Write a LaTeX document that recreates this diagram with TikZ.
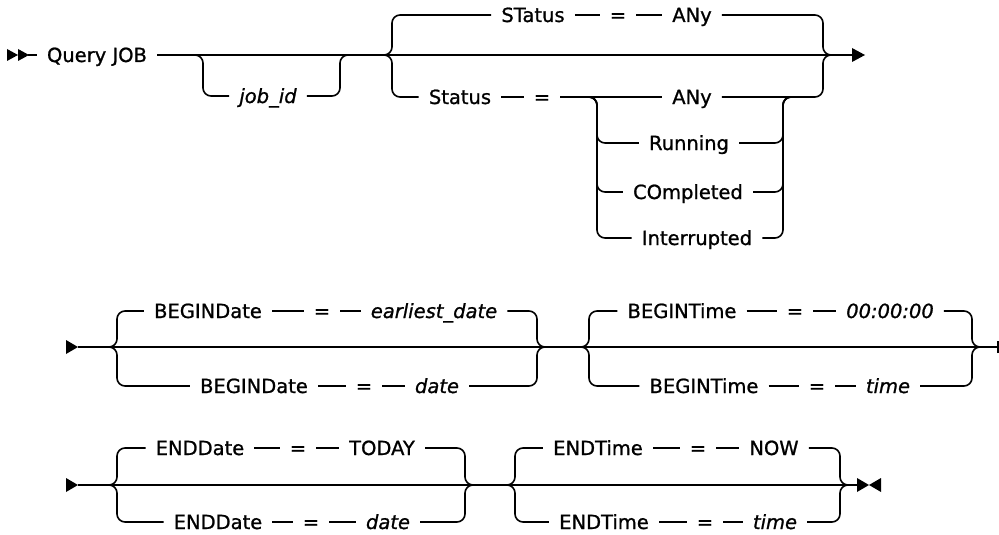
\documentclass[tikz,border=0pt]{standalone}
\usepackage{fontspec}
\setmainfont{DejaVu Sans}
\newfontfamily\railfont{DejaVu Sans}[FakeBold=1]
\usetikzlibrary{positioning}

\begin{document}
\begin{tikzpicture}[x=1pt,y=-1pt,
  rail/.style={line width=1.6pt,rounded corners=8pt},
  kw/.style={font=\railfont\fontsize{19.5}{22}\selectfont,inner xsep=10pt,inner ysep=0pt,
    text height=14pt,text depth=0pt},
  var/.style={kw,font=\railfont\fontsize{19.5}{22}\selectfont\itshape}]
  \useasboundingbox (0,0) rectangle (999,535);

  % row 1: command, optional job_id, status choice
  \node[kw] (qj) at (97,55) {Query JOB};
  \node[var] (jid) at (268,96) {job\_id};
  \coordinate (start1) at (28,55);
  \coordinate (end1) at (852,55);
  \coordinate (j-l) at (195,55);  \coordinate (j-lv) at (203,55);
  \coordinate (j-rv) at (340,55); \coordinate (j-r) at (348,55);
  \coordinate (st-l) at (384,55);  \coordinate (st-lv) at (392,55);
  \coordinate (st-rv) at (823,55); \coordinate (st-r) at (831,55);
  \node[kw] (st-t1) at (533,15) {STatus};
  \node[kw] (st-t2) at (618,15) {=};
  \node[kw] (st-t3) at (692,15) {ANy};
  \node[kw] (st-b1) at (460,97) {Status};
  \node[kw] (st-b2) at (542,97) {=};
  \node[kw] (st-b3) at (692,97) {ANy};
  \fill (7,49) -- (18,55) -- (7,61) -- cycle;
  \fill (18,49) -- (29,55) -- (18,61) -- cycle;
  \draw[rail] (start1) -- (qj.west);
  \draw[rail] (qj.east) -- (end1);
  \fill (end1) -- ++(0,-7) -- ++(13,7) -- ++(-13,7) -- cycle;
  \draw[rail] (j-l) -- (j-lv) -- (j-lv |- jid) -- (jid.west);
  \draw[rail] (jid.east) -- (j-rv |- jid) -- (j-rv) -- (j-r);
  % nested status values
  \coordinate (n-l) at (589,97);  \coordinate (n-lv) at (597,97);
  \coordinate (n-rv) at (783,97); \coordinate (n-r) at (791,97);
  \foreach \n/\lab/\x/\y in {run/Running/689/143,comp/COmpleted/688/192,intr/Interrupted/697/238}{
    \node[kw] (\n) at (\x,\y) {\lab};
    \draw[rail] (n-l) -- (n-lv) -- (n-lv |- \n) -- (\n.west);
    \draw[rail] (\n.east) -- (n-rv |- \n) -- (n-rv) -- (n-r);}

  % row 2: begin date and begin time
  \coordinate (start2) at (78,347);
  \coordinate (end2) at (998,347);
  \coordinate (bd-l) at (109,347);  \coordinate (bd-lv) at (117,347);
  \coordinate (bd-rv) at (537,347); \coordinate (bd-r) at (545,347);
  \node[kw] (bd-t1) at (208,311) {BEGINDate};
  \node[kw] (bd-t2) at (322,311) {=};
  \node[var] (bd-t3) at (434,311) {earliest\_date};
  \node[kw] (bd-b1) at (254,386) {BEGINDate};
  \node[kw] (bd-b2) at (364,386) {=};
  \node[var] (bd-b3) at (437,386) {date};
  \coordinate (bt-l) at (581,347);  \coordinate (bt-lv) at (589,347);
  \coordinate (bt-rv) at (972,347); \coordinate (bt-r) at (980,347);
  \node[kw] (bt-t1) at (682,311) {BEGINTime};
  \node[kw] (bt-t2) at (795,311) {=};
  \node[var] (bt-t3) at (890,311) {00:00:00};
  \node[kw] (bt-b1) at (704,386) {BEGINTime};
  \node[kw] (bt-b2) at (817,386) {=};
  \node[var] (bt-b3) at (888,386) {time};
  \fill (start2) -- ++(-12,-7) -- ++(0,14) -- cycle;
  \draw[rail] (start2) -- (end2);
  \draw[line width=1.6pt] ([yshift=-6pt]end2) -- ([yshift=6pt]end2);

  % row 3: end date and end time
  \coordinate (start3) at (78,485);
  \coordinate (end3) at (857,485);
  \coordinate (ed-l) at (109,485);  \coordinate (ed-lv) at (117,485);
  \coordinate (ed-rv) at (465,485); \coordinate (ed-r) at (473,485);
  \node[kw] (ed-t1) at (200,448) {ENDDate};
  \node[kw] (ed-t2) at (298,448) {=};
  \node[kw] (ed-t3) at (382,448) {TODAY};
  \node[kw] (ed-b1) at (218,522) {ENDDate};
  \node[kw] (ed-b2) at (311,522) {=};
  \node[var] (ed-b3) at (388,522) {date};
  \coordinate (et-l) at (507,485);  \coordinate (et-lv) at (515,485);
  \coordinate (et-rv) at (840,485); \coordinate (et-r) at (848,485);
  \node[kw] (et-t1) at (598,448) {ENDTime};
  \node[kw] (et-t2) at (698,448) {=};
  \node[kw] (et-t3) at (774,448) {NOW};
  \node[kw] (et-b1) at (604,522) {ENDTime};
  \node[kw] (et-b2) at (705,522) {=};
  \node[var] (et-b3) at (775,522) {time};
  \fill (start3) -- ++(-12,-7) -- ++(0,14) -- cycle;
  \draw[rail] (start3) -- (end3);
  \fill (end3) -- ++(0,-7) -- ++(12,7) -- ++(-12,7) -- cycle;
  \fill ([xshift=24pt]end3) -- ++(0,-7) -- ++(-12,7) -- ++(12,7) -- cycle;

  % braces and branches of every two-way choice
  \foreach \g in {st,bd,bt,ed,et}{
    \draw[rail] (\g-l) -- (\g-lv) -- (\g-lv |- \g-t1) -- (\g-t1.west);
    \draw[rail] (\g-l) -- (\g-lv) -- (\g-lv |- \g-b1) -- (\g-b1.west);
    \draw[rail] (\g-t1.east) -- (\g-t2.west) (\g-t2.east) -- (\g-t3.west);
    \draw[rail] (\g-b1.east) -- (\g-b2.west) (\g-b2.east) -- (\g-b3.west);
    \draw[rail] (\g-t3.east) -- (\g-rv |- \g-t3) -- (\g-rv) -- (\g-r);
    \draw[rail] (\g-b3.east) -- (\g-rv |- \g-b3) -- (\g-rv) -- (\g-r);}
\end{tikzpicture}
\end{document}
